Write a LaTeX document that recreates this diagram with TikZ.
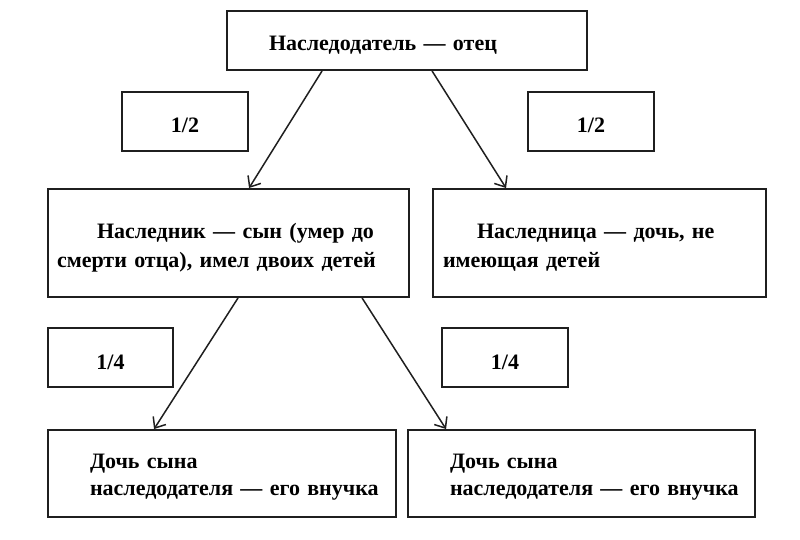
\documentclass[tikz,border=0pt]{standalone}
\usepackage{fontspec}
\setmainfont{Liberation Serif}
\usetikzlibrary{arrows.meta}
\begin{document}
\begin{tikzpicture}[x=1pt,y=-1pt,
  every node/.style={font=\fontsize{22}{29}\selectfont\bfseries},
  box/.style={draw=black!88, line width=1.9pt, rectangle, inner sep=0pt},
  txt/.style={inner sep=0pt, align=left},
  arr/.style={draw=black!88, line width=1.5pt, -{Straight Barb[length=9pt,width=15pt,line width=1.5pt]}}]
\useasboundingbox (0,0) rectangle (800,540);
% boxes
\node[box, minimum width=360pt, minimum height=59pt] (top) at (407,40.5) {};
\node[box, minimum width=126pt, minimum height=59pt] (hl) at (185,121.5) {};
\node[box, minimum width=126pt, minimum height=59pt] (hr) at (591,121.5) {};
\node[box, minimum width=361pt, minimum height=108pt] (lm) at (228.5,243) {};
\node[box, minimum width=333pt, minimum height=108pt] (rm) at (599.5,243) {};
\node[box, minimum width=125pt, minimum height=59pt] (ql) at (110.5,357.5) {};
\node[box, minimum width=126pt, minimum height=59pt] (qr) at (505,357.5) {};
\node[box, minimum width=348pt, minimum height=87pt] (bl) at (222,473.5) {};
\node[box, minimum width=347pt, minimum height=87pt] (br) at (581.5,473.5) {};
% texts
\node[txt, text width=276pt] (topt) at ([yshift=-5pt]top.center) {Наследодатель — отец};
\node[txt] (hlt) at ([yshift=-4pt]hl.center) {1/2};
\node[txt] (hrt) at ([yshift=-4pt]hr.center) {1/2};
\node[txt, text width=343pt] (lmt) at ([yshift=-5pt]lm.center)
  {\hspace*{40pt}\mbox{Наследник — сын (умер до}\\\mbox{смерти отца), имел двоих детей}};
\node[txt, text width=313pt] (rmt) at ([yshift=-5pt]rm.center)
  {\hspace*{34pt}\mbox{Наследница — дочь, не}\\\mbox{имеющая детей}};
\node[txt] (qlt) at ([yshift=-5pt]ql.center) {1/4};
\node[txt] (qrt) at ([yshift=-5pt]qr.center) {1/4};
\node[txt, text width=264pt] (blt) at ([yshift=-4pt]bl.center)
  {\mbox{Дочь сына}\\[-2pt]\mbox{наследодателя — его внучка}};
\node[txt, text width=263pt] (brt) at ([yshift=-4pt]br.center)
  {\mbox{Дочь сына}\\[-2pt]\mbox{наследодателя — его внучка}};
% arrows
\draw[arr] ([xshift=96pt]top.south west) -- ([xshift=202pt]lm.north west);
\draw[arr] ([xshift=206pt]top.south west) -- ([xshift=74pt]rm.north west);
\draw[arr] ([xshift=191pt]lm.south west) -- ([xshift=107pt]bl.north west);
\draw[arr] ([xshift=315pt]lm.south west) -- ([xshift=39pt]br.north west);
\end{tikzpicture}
\end{document}
